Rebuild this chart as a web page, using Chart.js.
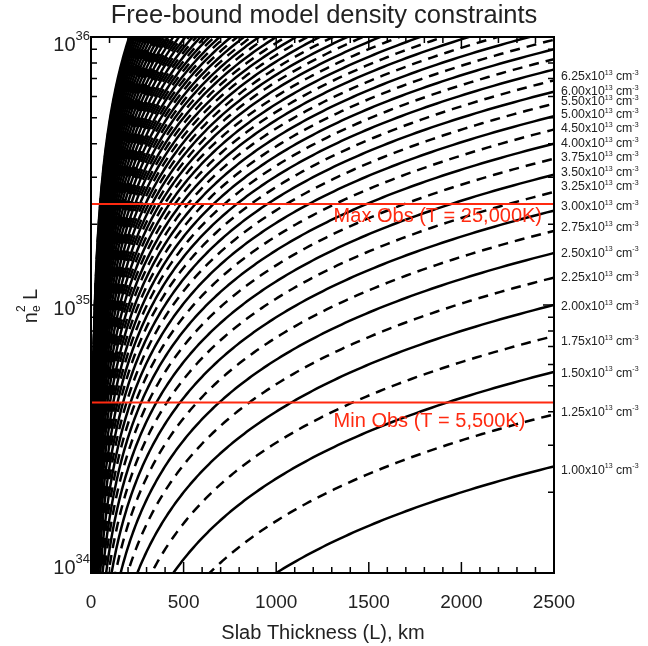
<!DOCTYPE html>
<html><head><meta charset="utf-8">
<script src="https://cdn.jsdelivr.net/npm/chart.js@4.4.1/dist/chart.umd.min.js"></script>
<style>html,body{margin:0;padding:0;background:#fff}#wrap{width:648px;height:646px}</style>
</head><body><div id="wrap"><canvas id="c" width="648" height="646"></canvas></div>
<script>
// Electron densities of the model curves, in units of 1e13 cm^-3 (solid / dashed alternate)
const densities = [1.00,1.25,1.50,1.75,2.00,2.25,2.50,2.75,3.00,3.25,3.50,3.75,4.00,4.25,4.50,4.75,
  5.00,5.25,5.50,5.75,6.00,6.25,6.50,6.75,7.00,7.25,7.50,7.75,8.00,8.25,8.50,8.75,9.00,9.25,9.50,9.75,
  10.00,10.25,10.50,10.75,11.00,11.25,11.50,11.75,12.00,12.25,12.50,12.75,13.00,13.25,13.50,13.75,
  14.00,14.25,14.50,14.75,15.00,15.25,15.50,15.75,16.00,16.25,16.50,16.75,17.00,17.25,17.50,17.75,
  18.00,18.25,18.50,18.75,19.00,19.25,19.50,19.75,20.00,20.25,20.50,20.75,21.00,21.25,21.50,21.75,22.00];
// Densities that carry a label on the right, and the n_e^2 L value at which each label sits
const labeledDensities = ['6.25','6.00','5.50','5.00','4.50','4.00','3.75','3.50','3.25','3.00','2.75','2.50','2.25','2.00','1.75','1.50','1.25','1.00'];
const labelValues = [7.10e35,6.23e35,5.72e35,5.12e35,4.54e35,3.99e35,3.54e35,3.11e35,2.76e35,2.32e35,1.94e35,1.56e35,1.26e35,9.83e34,7.28e34,5.57e34,3.98e34,2.42e34];
// Observed limits
const obsLimits = [2.38e35, 4.33e34];
const obsLabels = ['Max Obs (T = 25,000K)', 'Min Obs (T = 5,500K)'];
// Slab thickness samples (km)
const thicknessKm = [];
for (let i = 600; i >= 0; i--) thicknessKm.push(2500 * Math.pow(10, -i / 150));
// Axis ticks
const xMajorTicks = [0,500,1000,1500,2000,2500];
const xMinorTicks = [100,200,300,400,600,700,800,900,1100,1200,1300,1400,1600,1700,1800,1900,2100,2200,2300,2400];
const yMajorTicks = [1e34,1e35,1e36];
const yMajorExp = ['34','35','36'];
const yMinorTicks = [2e34,3e34,4e34,5e34,6e34,7e34,8e34,9e34,2e35,3e35,4e35,5e35,6e35,7e35,8e35,9e35];

const YMIN = 1e34, YMAX = 1e36;
const FONT = '"Liberation Sans", Arial, Helvetica, sans-serif';
const RED = '#ff2a10';

const datasets = [];
obsLimits.forEach(v => datasets.push({
  data: [{x:0,y:v},{x:2500,y:v}], borderColor: RED, borderWidth: 2, pointRadius: 0, order: 0, clip: 0
}));
densities.forEach((n, i) => {
  const pts = [];
  const nn = n * 1e13;
  for (let j = 0; j < thicknessKm.length; j++) {
    const L = thicknessKm[j];
    const y = nn * nn * L * 1e5;         // n_e^2 L with L in cm
    const yNext = j + 1 < thicknessKm.length ? nn * nn * thicknessKm[j+1] * 1e5 : y;
    if (yNext < YMIN * 0.7) continue;
    pts.push({x: L, y: y});
    if (y > YMAX * 1.3) break;
  }
  datasets.push({
    data: pts, borderColor: '#000', borderWidth: 2.5, pointRadius: 0,
    cubicInterpolationMode: 'monotone',
    borderDash: i % 2 === 0 ? [] : [10, 7], order: 1, clip: 0
  });
});

function drawRich(ctx, parts, x, y, align) {
  let w = 0;
  parts.forEach(p => { ctx.font = p.size + 'px ' + FONT; p.w = ctx.measureText(p.t).width; w += p.adv === 0 ? 0 : p.w; });
  let cx = align === 'right' ? x - w : (align === 'center' ? x - w / 2 : x);
  parts.forEach(p => {
    ctx.font = p.size + 'px ' + FONT;
    ctx.fillText(p.t, cx, y + (p.dy || 0));
    if (p.adv !== 0) cx += p.w;
  });
}

const deco = {
  id: 'deco',
  afterDatasetsDraw(chart) {
    const ctx = chart.ctx, xs = chart.scales.x, ys = chart.scales.y;
    ctx.save();
    ctx.fillStyle = RED;
    ctx.textBaseline = 'middle';
    ctx.textAlign = 'left';
    ctx.font = '20px ' + FONT;
    ctx.fillText(obsLabels[0], xs.getPixelForValue(1310), ys.getPixelForValue(obsLimits[0]) + 12);
    ctx.fillText(obsLabels[1], xs.getPixelForValue(1310), ys.getPixelForValue(obsLimits[1]) + 19);
    ctx.restore();
  },
  afterDraw(chart) {
    const ctx = chart.ctx, xs = chart.scales.x, ys = chart.scales.y, a = chart.chartArea;
    ctx.save();
    ctx.strokeStyle = '#000';
    ctx.lineWidth = 2;
    ctx.strokeRect(a.left, a.top, a.right - a.left, a.bottom - a.top);
    ctx.lineWidth = 1.5;
    ctx.beginPath();
    const vt = (v, len) => { const p = xs.getPixelForValue(v);
      ctx.moveTo(p, a.bottom); ctx.lineTo(p, a.bottom - len); ctx.moveTo(p, a.top); ctx.lineTo(p, a.top + len); };
    const ht = (v, len) => { const p = ys.getPixelForValue(v);
      ctx.moveTo(a.left, p); ctx.lineTo(a.left + len, p); ctx.moveTo(a.right, p); ctx.lineTo(a.right - len, p); };
    xMajorTicks.forEach(v => vt(v, 11));
    xMinorTicks.forEach(v => vt(v, 6));
    yMajorTicks.forEach(v => ht(v, 11));
    yMinorTicks.forEach(v => ht(v, 6));
    ctx.stroke();

    ctx.fillStyle = '#222';
    ctx.textBaseline = 'middle';
    // x tick labels
    ctx.textAlign = 'center';
    ctx.font = '19px ' + FONT;
    xMajorTicks.forEach(v => ctx.fillText(String(v), xs.getPixelForValue(v), 603));
    // x title
    ctx.font = '20px ' + FONT;
    ctx.fillText('Slab Thickness (L), km', 323, 633);
    // title
    ctx.font = '25.5px ' + FONT;
    ctx.fillText('Free-bound model density constraints', 324, 16);
    // y tick labels
    ctx.textAlign = 'left';
    const yOff = [-5, 4, 8];
    yMajorTicks.forEach((v, i) => {
      const p = ys.getPixelForValue(v);
      drawRich(ctx, [{t:'10', size:20}, {t:yMajorExp[i], size:13, dy:-9}], a.left - 1, p + yOff[i], 'right');
    });
    // y title
    ctx.save();
    ctx.translate(31, 306);
    ctx.rotate(-Math.PI / 2);
    drawRich(ctx, [{t:'n', size:20}, {t:'e', size:12, dy:6, adv:0}, {t:'2', size:12, dy:-9}, {t:' L', size:20}], 0, 0, 'center');
    ctx.restore();
    // right labels
    labeledDensities.forEach((d, i) => {
      const p = ys.getPixelForValue(labelValues[i]);
      drawRich(ctx, [{t:d + 'x10', size:12.3}, {t:'13', size:7, dy:-4}, {t:' cm', size:12.3}, {t:'-3', size:7, dy:-4}], 561, p, 'left');
    });
    ctx.restore();
  }
};

new Chart(document.getElementById('c'), {
  type: 'line',
  data: { datasets },
  options: {
    responsive: false, animation: false, devicePixelRatio: 1, parsing: false, normalized: true,
    layout: { padding: { left: 91, right: 94, top: 37, bottom: 73 } },
    plugins: { legend: { display: false }, tooltip: { enabled: false }, title: { display: false } },
    elements: { line: { borderCapStyle: 'butt', borderJoinStyle: 'round' } },
    scales: {
      x: { type: 'linear', min: 0, max: 2500, display: false },
      y: { type: 'logarithmic', min: YMIN, max: YMAX, display: false }
    }
  },
  plugins: [deco]
});
</script></body></html>
